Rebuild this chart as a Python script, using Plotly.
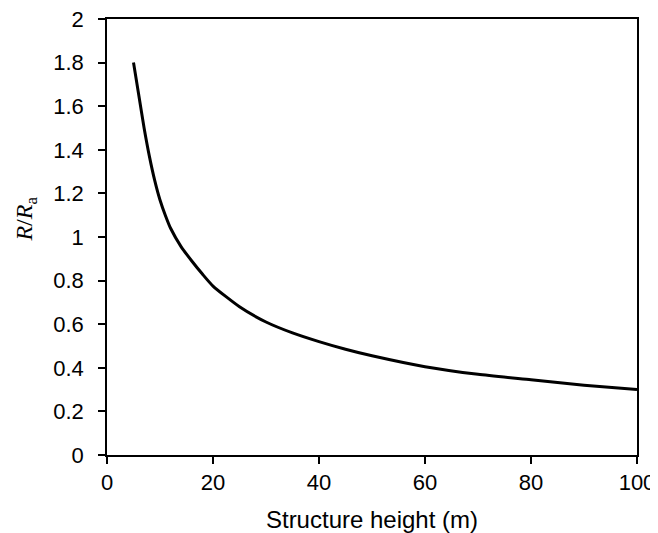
import plotly.graph_objects as go

heights = [5, 6, 7, 8, 9, 10, 11, 12, 14, 16, 18, 20, 25, 30, 35, 40, 45, 50, 60, 70, 80, 90, 100]
ratio = [1.80, 1.65, 1.50, 1.37, 1.26, 1.17, 1.10, 1.04, 0.955, 0.89, 0.83, 0.775, 0.68,
         0.61, 0.56, 0.52, 0.485, 0.455, 0.405, 0.37, 0.345, 0.32, 0.30]

x_ticks = [0, 20, 40, 60, 80, 100]
y_ticks = [0, 0.2, 0.4, 0.6, 0.8, 1, 1.2, 1.4, 1.6, 1.8, 2]
y_tick_text = ["0", "0.2", "0.4", "0.6", "0.8", "1", "1.2", "1.4", "1.6", "1.8", "2"]
y_title = "<i>R</i>/<i>R</i><sub>a</sub>"
x_title = "Structure height (m)"

fig = go.Figure()
fig.add_trace(go.Scatter(x=heights, y=ratio, mode="lines",
                         line=dict(color="black", width=3, shape="spline", smoothing=0.6),
                         showlegend=False))

fig.update_layout(
    width=650, height=525,
    margin=dict(l=99, r=21, t=11, b=78, autoexpand=False),
    plot_bgcolor="white", paper_bgcolor="white",
    font=dict(family="Liberation Sans, Arial, sans-serif", size=22, color="black"),
    xaxis=dict(range=[0, 100], tickvals=x_ticks, ticks="outside", ticklen=7, tickwidth=1.5,
               tickcolor="black", showline=True, linecolor="black", linewidth=1.5, mirror=True,
               showgrid=False, zeroline=False, automargin=False, ticklabelstandoff=0,
               ticklabeloverflow="allow",
               tickfont=dict(size=22, color="black"),
               title=dict(text=x_title, font=dict(size=24, color="black"), standoff=20)),
    yaxis=dict(range=[0, 2], tickvals=y_ticks, ticktext=y_tick_text, ticks="outside", ticklen=7,
               tickwidth=1.5, tickcolor="black", showline=True, linecolor="black", linewidth=1.5,
               mirror=True, showgrid=False, zeroline=False, automargin=False, ticklabelstandoff=10,
               ticklabeloverflow="allow",
               tickfont=dict(size=22, color="black")),
    annotations=[dict(text=y_title, textangle=-90, xref="paper", yref="paper",
                      x=-0.152, y=0.541, xanchor="center", yanchor="middle", showarrow=False,
                      font=dict(family="Liberation Serif, Times New Roman, serif", size=24,
                                color="black"))],
)

fig.write_html("out.html")
